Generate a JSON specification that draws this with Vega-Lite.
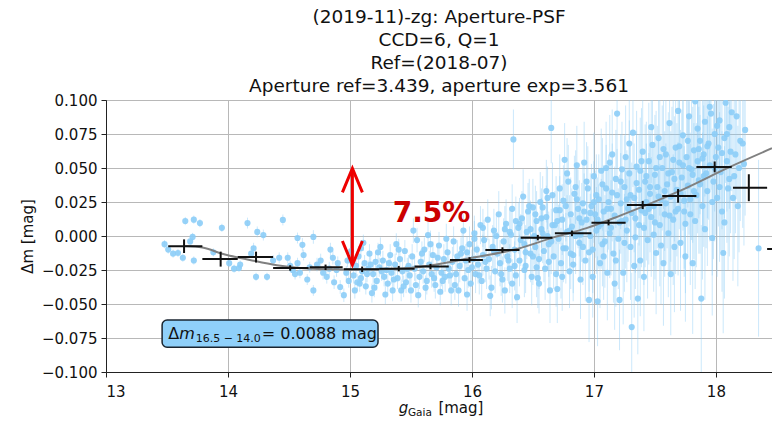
{
  "$schema": "https://vega.github.io/schema/vega-lite/v6.json",
  "autosize": {"type": "none"},
  "padding": {"left": 106, "top": 100, "right": 0, "bottom": 52},
  "width": 666,
  "height": 272,
  "background": "white",
  "config": {
    "font": "DejaVu Sans",
    "view": {"stroke": "#222222", "strokeWidth": 1},
    "axis": {
      "labelFont": "DejaVu Sans", "titleFont": "DejaVu Sans",
      "labelFontSize": 15, "titleFontSize": 15, "titleFontWeight": "normal",
      "labelColor": "#111111", "titleColor": "#111111",
      "domainColor": "#222222", "tickColor": "#222222", "tickSize": 5,
      "gridColor": "#b8b8b8", "gridWidth": 1, "labelPadding": 4
    }
  },
  "title": {
    "text": ["(2019-11)-zg: Aperture-PSF", "CCD=6, Q=1", "Ref=(2018-07)", "Aperture ref=3.439, aperture exp=3.561"],
    "font": "DejaVu Sans", "fontSize": 18.5, "fontWeight": "normal", "lineHeight": 23,
    "color": "#111111", "anchor": "middle", "offset": -2
  },
  "datasets": {
    "pts": [
      {"x":13.48,"y":-0.006,"e":0.003},{"x":13.51,"y":-0.010,"e":0.003},{"x":13.55,"y":-0.013,"e":0.003},{"x":13.59,"y":-0.0125,"e":0.003},
      {"x":13.63,"y":-0.016,"e":0.003},{"x":13.65,"y":0.011,"e":0.003},{"x":13.69,"y":-0.004,"e":0.003},{"x":13.72,"y":0.012,"e":0.003},
      {"x":13.72,"y":-0.018,"e":0.003},{"x":13.71,"y":-0.0007,"e":0.003},{"x":13.77,"y":0.0095,"e":0.003},{"x":13.88,"y":-0.012,"e":0.003},
      {"x":13.95,"y":0.006,"e":0.003},{"x":14.01,"y":-0.020,"e":0.003},{"x":14.05,"y":-0.024,"e":0.003},{"x":14.09,"y":-0.0235,"e":0.003},
      {"x":14.10,"y":-0.021,"e":0.003},{"x":14.16,"y":0.0095,"e":0.004},{"x":14.19,"y":-0.013,"e":0.003},{"x":14.21,"y":-0.009,"e":0.004},
      {"x":14.23,"y":-0.030,"e":0.003},{"x":14.24,"y":0.003,"e":0.004},{"x":14.29,"y":0.0007,"e":0.004},{"x":14.32,"y":-0.030,"e":0.003},
      {"x":14.37,"y":-0.018,"e":0.004},{"x":14.42,"y":-0.016,"e":0.004},{"x":14.45,"y":0.0118,"e":0.004},{"x":14.49,"y":-0.016,"e":0.004},
      {"x":14.51,"y":-0.022,"e":0.004},{"x":14.53,"y":-0.025,"e":0.004},{"x":14.55,"y":-0.028,"e":0.004},{"x":14.57,"y":-0.0015,"e":0.004},
      {"x":14.57,"y":-0.020,"e":0.004},{"x":14.59,"y":-0.027,"e":0.004},{"x":14.61,"y":-0.0065,"e":0.005},{"x":14.62,"y":-0.014,"e":0.004},
      {"x":14.65,"y":-0.032,"e":0.004},{"x":14.67,"y":-0.023,"e":0.004},{"x":14.70,"y":-0.0007,"e":0.005},{"x":14.70,"y":-0.040,"e":0.004},
      {"x":14.73,"y":-0.021,"e":0.005},{"x":14.76,"y":-0.018,"e":0.005},{"x":14.78,"y":-0.027,"e":0.005},{"x":14.81,"y":-0.030,"e":0.005},
      {"x":14.83,"y":-0.024,"e":0.005},{"x":14.84,"y":-0.010,"e":0.005},{"x":14.86,"y":-0.016,"e":0.005},{"x":14.87,"y":-0.034,"e":0.005},
      {"x":14.89,"y":-0.025,"e":0.005},{"x":14.90,"y":-0.020,"e":0.005},{"x":14.92,"y":-0.0375,"e":0.005},{"x":14.95,"y":-0.0435,"e":0.005},
      {"x":14.97,"y":-0.027,"e":0.005},{"x":14.98,"y":-0.018,"e":0.005},{"x":14.99,"y":-0.033,"e":0.005},{"x":15.01,"y":-0.011,"e":0.006},
      {"x":15.03,"y":-0.029,"e":0.006},{"x":15.04,"y":-0.040,"e":0.006},{"x":15.05,"y":-0.022,"e":0.006},{"x":15.07,"y":-0.015,"e":0.006},
      {"x":15.08,"y":-0.035,"e":0.006},{"x":15.10,"y":-0.026,"e":0.006},{"x":15.11,"y":-0.005,"e":0.006},{"x":15.09,"y":-0.031,"e":0.006},
      {"x":15.12,"y":-0.020,"e":0.006},{"x":15.13,"y":-0.037,"e":0.006},{"x":15.15,"y":-0.024,"e":0.006},{"x":15.16,"y":-0.013,"e":0.007},
      {"x":15.18,"y":-0.042,"e":0.007},{"x":15.19,"y":-0.028,"e":0.007},{"x":15.21,"y":-0.019,"e":0.007},{"x":15.22,"y":-0.033,"e":0.007},
      {"x":15.24,"y":-0.023,"e":0.007},{"x":15.25,"y":-0.008,"e":0.007},{"x":15.27,"y":-0.018,"e":0.007},{"x":15.28,"y":-0.030,"e":0.007},
      {"x":15.30,"y":-0.025,"e":0.007},{"x":15.31,"y":-0.035,"e":0.007},{"x":15.33,"y":-0.014,"e":0.008},{"x":15.34,"y":-0.027,"e":0.008},
      {"x":15.35,"y":-0.040,"e":0.008},{"x":15.37,"y":-0.021,"e":0.008},{"x":15.38,"y":-0.006,"e":0.008},{"x":15.39,"y":-0.031,"e":0.008},
      {"x":15.41,"y":-0.017,"e":0.008},{"x":15.42,"y":-0.040,"e":0.008},{"x":15.43,"y":-0.026,"e":0.008},{"x":15.45,"y":-0.011,"e":0.008},
      {"x":15.46,"y":-0.034,"e":0.008},{"x":15.48,"y":-0.022,"e":0.008},{"x":15.49,"y":-0.029,"e":0.009},{"x":15.50,"y":-0.040,"e":0.009},
      {"x":15.51,"y":-0.015,"e":0.009},{"x":15.52,"y":0.004,"e":0.009},{"x":15.53,"y":-0.024,"e":0.009},{"x":15.55,"y":-0.003,"e":0.009},
      {"x":15.56,"y":-0.0435,"e":0.009},{"x":15.57,"y":-0.030,"e":0.009},{"x":15.58,"y":-0.019,"e":0.009},{"x":15.60,"y":-0.026,"e":0.009},
      {"x":15.61,"y":-0.010,"e":0.009},{"x":15.63,"y":-0.033,"e":0.010},{"x":15.64,"y":0.0007,"e":0.010},{"x":15.65,"y":-0.021,"e":0.010},
      {"x":15.67,"y":-0.028,"e":0.010},{"x":15.68,"y":-0.014,"e":0.010},{"x":15.70,"y":-0.036,"e":0.010},{"x":15.71,"y":-0.023,"e":0.010},
      {"x":15.73,"y":-0.007,"e":0.010},{"x":15.74,"y":-0.041,"e":0.010},{"x":15.75,"y":-0.027,"e":0.010},{"x":15.77,"y":-0.017,"e":0.011},
      {"x":15.78,"y":-0.030,"e":0.011},{"x":15.80,"y":-0.012,"e":0.011},{"x":15.81,"y":-0.024,"e":0.011},{"x":15.83,"y":-0.040,"e":0.011},
      {"x":15.84,"y":-0.019,"e":0.011},{"x":15.85,"y":-0.004,"e":0.011},{"x":15.87,"y":-0.028,"e":0.011},{"x":15.88,"y":-0.015,"e":0.012},
      {"x":15.89,"y":-0.040,"e":0.012},{"x":15.90,"y":-0.022,"e":0.012},{"x":15.92,"y":-0.009,"e":0.012},{"x":15.93,"y":0.004,"e":0.012},
      {"x":15.94,"y":-0.031,"e":0.012},{"x":15.95,"y":-0.018,"e":0.012},{"x":15.96,"y":-0.012,"e":0.012},{"x":15.97,"y":-0.025,"e":0.013},
      {"x":15.98,"y":-0.006,"e":0.013},{"x":15.99,"y":-0.035,"e":0.013},{"x":16.01,"y":-0.017,"e":0.013},{"x":16.02,"y":0.002,"e":0.013},
      {"x":16.03,"y":-0.028,"e":0.014},{"x":16.04,"y":-0.010,"e":0.014},{"x":16.05,"y":-0.021,"e":0.014},{"x":16.07,"y":0.008,"e":0.014},
      {"x":16.08,"y":-0.033,"e":0.014},{"x":16.09,"y":-0.014,"e":0.015},{"x":16.10,"y":-0.003,"e":0.015},{"x":16.12,"y":-0.024,"e":0.015},
      {"x":16.13,"y":0.012,"e":0.015},{"x":16.14,"y":-0.017,"e":0.015},{"x":16.16,"y":-0.038,"e":0.016},{"x":16.17,"y":-0.008,"e":0.016},
      {"x":16.18,"y":0.004,"e":0.016},{"x":16.19,"y":-0.026,"e":0.016},{"x":16.21,"y":-0.013,"e":0.016},{"x":16.22,"y":0.016,"e":0.017},
      {"x":16.23,"y":-0.020,"e":0.017},{"x":16.25,"y":-0.032,"e":0.017},{"x":16.26,"y":-0.004,"e":0.017},{"x":16.27,"y":-0.040,"e":0.017},
      {"x":16.28,"y":0.009,"e":0.018},{"x":16.29,"y":-0.015,"e":0.018},{"x":16.31,"y":-0.024,"e":0.018},{"x":16.32,"y":0.001,"e":0.018},
      {"x":16.33,"y":0.020,"e":0.018},{"x":16.34,"y":0.071,"e":0.022},{"x":16.35,"y":-0.010,"e":0.019},{"x":16.36,"y":-0.029,"e":0.019},
      {"x":16.37,"y":-0.045,"e":0.019},{"x":16.38,"y":0.006,"e":0.019},{"x":16.39,"y":-0.018,"e":0.019},{"x":16.41,"y":0.013,"e":0.020},
      {"x":16.42,"y":0.029,"e":0.020},{"x":16.43,"y":-0.006,"e":0.020},{"x":16.44,"y":-0.022,"e":0.020},{"x":16.45,"y":0.003,"e":0.020},
      {"x":16.46,"y":0.018,"e":0.021},{"x":16.48,"y":-0.013,"e":0.021},{"x":16.49,"y":-0.030,"e":0.021},{"x":16.50,"y":0.021,"e":0.021},
      {"x":16.51,"y":0.000,"e":0.021},{"x":16.52,"y":-0.008,"e":0.022},{"x":16.53,"y":0.011,"e":0.022},{"x":16.54,"y":-0.031,"e":0.022},
      {"x":16.55,"y":-0.017,"e":0.022},{"x":16.56,"y":0.025,"e":0.022},{"x":16.57,"y":0.005,"e":0.023},{"x":16.58,"y":0.021,"e":0.023},
      {"x":16.59,"y":-0.011,"e":0.023},{"x":16.60,"y":-0.024,"e":0.023},{"x":16.61,"y":0.014,"e":0.023},{"x":16.62,"y":0.000,"e":0.024},
      {"x":16.63,"y":-0.006,"e":0.024},{"x":16.64,"y":-0.040,"e":0.024},{"x":16.65,"y":0.0795,"e":0.026},{"x":16.66,"y":0.030,"e":0.024},
      {"x":16.67,"y":-0.015,"e":0.024},{"x":16.68,"y":0.008,"e":0.025},{"x":16.69,"y":0.019,"e":0.025},{"x":16.70,"y":-0.039,"e":0.025},
      {"x":16.71,"y":-0.002,"e":0.025},{"x":16.72,"y":0.035,"e":0.025},{"x":16.73,"y":-0.020,"e":0.026},{"x":16.74,"y":0.012,"e":0.026},
      {"x":16.75,"y":0.026,"e":0.026},{"x":16.76,"y":0.056,"e":0.027},{"x":16.77,"y":-0.009,"e":0.026},{"x":16.78,"y":0.003,"e":0.027},
      {"x":16.79,"y":0.040,"e":0.027},{"x":16.80,"y":-0.026,"e":0.027},{"x":16.81,"y":0.016,"e":0.027},{"x":16.82,"y":0.007,"e":0.028},
      {"x":16.83,"y":-0.014,"e":0.028},{"x":16.84,"y":0.031,"e":0.028},{"x":16.85,"y":0.000,"e":0.028},{"x":16.86,"y":0.052,"e":0.029},
      {"x":16.87,"y":0.020,"e":0.029},{"x":16.88,"y":-0.005,"e":0.029},{"x":16.89,"y":-0.032,"e":0.029},{"x":16.90,"y":0.010,"e":0.029},
      {"x":16.91,"y":0.024,"e":0.030},{"x":16.92,"y":0.054,"e":0.030},{"x":16.93,"y":-0.018,"e":0.030},{"x":16.94,"y":0.012,"e":0.030},
      {"x":16.95,"y":0.035,"e":0.031},{"x":16.96,"y":-0.047,"e":0.031},{"x":16.97,"y":0.000,"e":0.031},{"x":16.98,"y":0.022,"e":0.031},
      {"x":16.99,"y":-0.010,"e":0.032},{"x":17.00,"y":0.044,"e":0.032},{"x":17.01,"y":0.016,"e":0.032},{"x":17.02,"y":0.004,"e":0.032},
      {"x":17.03,"y":-0.048,"e":0.033},{"x":17.04,"y":0.027,"e":0.033},{"x":17.05,"y":-0.020,"e":0.033},{"x":17.06,"y":0.009,"e":0.033},
      {"x":17.07,"y":0.038,"e":0.034},{"x":17.08,"y":0.018,"e":0.034},{"x":17.09,"y":-0.004,"e":0.034},{"x":17.10,"y":0.050,"e":0.034},
      {"x":17.11,"y":-0.027,"e":0.035},{"x":17.12,"y":0.025,"e":0.035},{"x":17.13,"y":0.054,"e":0.035},{"x":17.14,"y":0.006,"e":0.035},
      {"x":17.15,"y":0.032,"e":0.036},{"x":17.16,"y":-0.013,"e":0.036},{"x":17.17,"y":0.015,"e":0.036},{"x":17.18,"y":0.042,"e":0.036},
      {"x":17.19,"y":0.090,"e":0.040},{"x":17.20,"y":-0.002,"e":0.037},{"x":17.21,"y":-0.047,"e":0.037},{"x":17.22,"y":0.024,"e":0.037},
      {"x":17.23,"y":0.011,"e":0.037},{"x":17.24,"y":-0.027,"e":0.038},{"x":17.25,"y":0.036,"e":0.038},{"x":17.26,"y":0.058,"e":0.038},
      {"x":17.27,"y":0.004,"e":0.038},{"x":17.28,"y":0.020,"e":0.039},{"x":17.29,"y":0.046,"e":0.039},{"x":17.30,"y":-0.008,"e":0.039},
      {"x":17.31,"y":-0.067,"e":0.040},{"x":17.32,"y":0.076,"e":0.040},{"x":17.33,"y":0.028,"e":0.040},{"x":17.34,"y":0.013,"e":0.040},
      {"x":17.35,"y":0.051,"e":0.041},{"x":17.36,"y":-0.046,"e":0.041},{"x":17.37,"y":0.034,"e":0.041},{"x":17.38,"y":-0.018,"e":0.041},
      {"x":17.39,"y":0.019,"e":0.042},{"x":17.40,"y":0.062,"e":0.042},{"x":17.41,"y":0.006,"e":0.042},{"x":17.42,"y":0.040,"e":0.042},
      {"x":17.43,"y":0.025,"e":0.043},{"x":17.44,"y":-0.003,"e":0.043},{"x":17.45,"y":0.055,"e":0.043},{"x":17.46,"y":0.031,"e":0.043},
      {"x":17.47,"y":0.014,"e":0.044},{"x":17.48,"y":0.067,"e":0.044},{"x":17.49,"y":0.022,"e":0.044},{"x":17.50,"y":0.045,"e":0.044},
      {"x":17.51,"y":-0.0125,"e":0.045},{"x":17.52,"y":0.036,"e":0.045},{"x":17.53,"y":0.072,"e":0.045},{"x":17.54,"y":0.008,"e":0.045},
      {"x":17.55,"y":0.027,"e":0.046},{"x":17.56,"y":0.050,"e":0.046},{"x":17.57,"y":-0.020,"e":0.046},{"x":17.58,"y":0.016,"e":0.046},
      {"x":17.59,"y":0.060,"e":0.047},{"x":17.60,"y":0.038,"e":0.047},{"x":17.61,"y":0.002,"e":0.047},{"x":17.62,"y":0.083,"e":0.047},
      {"x":17.63,"y":0.029,"e":0.048},{"x":17.64,"y":0.047,"e":0.048},{"x":17.65,"y":0.012,"e":0.048},{"x":17.66,"y":-0.008,"e":0.048},
      {"x":17.67,"y":0.065,"e":0.049},{"x":17.68,"y":0.034,"e":0.049},{"x":17.69,"y":0.020,"e":0.049},{"x":17.70,"y":0.054,"e":0.049},
      {"x":17.71,"y":-0.005,"e":0.050},{"x":17.72,"y":0.043,"e":0.050},{"x":17.73,"y":0.074,"e":0.050},{"x":17.74,"y":0.026,"e":0.050},
      {"x":17.75,"y":0.009,"e":0.051},{"x":17.76,"y":0.058,"e":0.051},{"x":17.77,"y":0.037,"e":0.051},{"x":17.78,"y":0.088,"e":0.052},
      {"x":17.79,"y":0.016,"e":0.052},{"x":17.80,"y":0.049,"e":0.052},{"x":17.81,"y":-0.020,"e":0.052},{"x":17.82,"y":0.063,"e":0.053},
      {"x":17.83,"y":0.099,"e":0.053},{"x":17.84,"y":0.030,"e":0.053},{"x":17.85,"y":0.055,"e":0.053},{"x":17.86,"y":0.041,"e":0.054},
      {"x":17.87,"y":0.070,"e":0.054},{"x":17.88,"y":-0.046,"e":0.054},{"x":17.89,"y":0.022,"e":0.054},{"x":17.90,"y":0.060,"e":0.055},
      {"x":17.91,"y":0.084,"e":0.055},{"x":17.92,"y":0.046,"e":0.055},{"x":17.93,"y":0.033,"e":0.055},{"x":17.94,"y":0.068,"e":0.056},
      {"x":17.95,"y":0.052,"e":0.056},{"x":17.96,"y":0.090,"e":0.056},{"x":17.97,"y":-0.0015,"e":0.057},{"x":17.98,"y":0.040,"e":0.057},
      {"x":17.99,"y":0.075,"e":0.057},{"x":18.00,"y":0.058,"e":0.057},{"x":18.01,"y":0.028,"e":0.058},{"x":18.02,"y":0.065,"e":0.058},
      {"x":18.03,"y":0.085,"e":0.058},{"x":18.04,"y":0.047,"e":0.058},{"x":18.05,"y":0.018,"e":0.059},{"x":18.06,"y":-0.0125,"e":0.059},
      {"x":18.07,"y":0.072,"e":0.059},{"x":18.08,"y":0.098,"e":0.059},{"x":18.09,"y":0.055,"e":0.060},{"x":18.10,"y":0.035,"e":0.060},
      {"x":18.11,"y":0.080,"e":0.060},{"x":18.12,"y":0.062,"e":0.060},{"x":18.14,"y":0.028,"e":0.061},{"x":18.15,"y":0.044,"e":0.061},
      {"x":18.17,"y":0.088,"e":0.061},{"x":18.19,"y":0.050,"e":0.062},{"x":18.22,"y":0.068,"e":0.062},{"x":18.24,"y":0.078,"e":0.063},
      {"x":18.35,"y":-0.009,"e":0.065},
      {"x":15.02,"y":-0.019,"e":0.006},{"x":15.06,"y":-0.034,"e":0.006},{"x":15.09,"y":-0.009,"e":0.006},{"x":15.14,"y":-0.028,"e":0.006},
      {"x":15.17,"y":-0.021,"e":0.007},{"x":15.20,"y":-0.038,"e":0.007},{"x":15.23,"y":-0.012,"e":0.007},{"x":15.26,"y":-0.026,"e":0.007},
      {"x":15.29,"y":-0.043,"e":0.007},{"x":15.32,"y":-0.020,"e":0.007},{"x":15.36,"y":-0.032,"e":0.008},{"x":15.40,"y":-0.010,"e":0.008},
      {"x":15.44,"y":-0.037,"e":0.008},{"x":15.47,"y":-0.024,"e":0.008},{"x":15.54,"y":-0.036,"e":0.009},{"x":15.59,"y":-0.013,"e":0.009},
      {"x":15.62,"y":-0.038,"e":0.009},{"x":15.66,"y":-0.006,"e":0.010},{"x":15.69,"y":-0.031,"e":0.010},{"x":15.72,"y":-0.016,"e":0.010},
      {"x":15.76,"y":-0.033,"e":0.010},{"x":15.79,"y":-0.002,"e":0.011},{"x":15.82,"y":-0.029,"e":0.011},{"x":15.86,"y":-0.036,"e":0.011},
      {"x":15.91,"y":-0.013,"e":0.012},{"x":15.96,"y":-0.043,"e":0.012},{"x":16.00,"y":-0.023,"e":0.013},{"x":16.02,"y":-0.002,"e":0.013},
      {"x":16.06,"y":-0.029,"e":0.014},{"x":16.09,"y":0.006,"e":0.014},{"x":16.11,"y":-0.019,"e":0.015},{"x":16.15,"y":-0.044,"e":0.015},
      {"x":16.18,"y":-0.011,"e":0.016},{"x":16.20,"y":0.000,"e":0.016},{"x":16.24,"y":-0.028,"e":0.016},{"x":16.27,"y":0.005,"e":0.017},
      {"x":16.30,"y":-0.018,"e":0.017},{"x":16.33,"y":-0.035,"e":0.018},{"x":16.36,"y":0.011,"e":0.018},{"x":16.40,"y":-0.003,"e":0.019},
      {"x":16.43,"y":-0.025,"e":0.020},{"x":16.47,"y":0.022,"e":0.020},{"x":16.50,"y":-0.015,"e":0.021},{"x":16.52,"y":0.016,"e":0.021},
      {"x":16.55,"y":-0.035,"e":0.022},{"x":16.58,"y":0.002,"e":0.022},{"x":16.61,"y":0.033,"e":0.023},{"x":16.63,"y":-0.019,"e":0.023},
      {"x":16.66,"y":0.008,"e":0.024},{"x":16.69,"y":-0.028,"e":0.024},{"x":16.72,"y":0.019,"e":0.025},{"x":16.75,"y":-0.009,"e":0.025},
      {"x":16.78,"y":0.046,"e":0.026},{"x":16.80,"y":0.004,"e":0.026},{"x":16.83,"y":-0.021,"e":0.027},{"x":16.86,"y":0.027,"e":0.027},
      {"x":16.88,"y":0.013,"e":0.028},{"x":16.91,"y":-0.008,"e":0.028},{"x":16.94,"y":0.040,"e":0.029},{"x":16.97,"y":0.017,"e":0.029},
      {"x":16.99,"y":-0.030,"e":0.030},{"x":17.02,"y":0.030,"e":0.030},{"x":17.04,"y":0.007,"e":0.031},{"x":17.06,"y":0.048,"e":0.031},
      {"x":17.08,"y":-0.015,"e":0.032},{"x":17.11,"y":0.020,"e":0.032},{"x":17.13,"y":0.002,"e":0.033},{"x":17.15,"y":0.060,"e":0.033},
      {"x":17.17,"y":-0.035,"e":0.034},{"x":17.19,"y":0.030,"e":0.034},{"x":17.21,"y":0.010,"e":0.035},{"x":17.23,"y":0.049,"e":0.035},
      {"x":17.25,"y":-0.005,"e":0.036},{"x":17.27,"y":0.027,"e":0.036},{"x":17.29,"y":0.068,"e":0.037},{"x":17.31,"y":0.017,"e":0.037},
      {"x":17.33,"y":-0.022,"e":0.038},{"x":17.35,"y":0.039,"e":0.038},{"x":17.37,"y":0.008,"e":0.039},{"x":17.39,"y":0.055,"e":0.039},
      {"x":17.41,"y":-0.030,"e":0.040},{"x":17.43,"y":0.044,"e":0.040},{"x":17.45,"y":0.020,"e":0.041},{"x":17.47,"y":0.080,"e":0.041},
      {"x":17.49,"y":0.001,"e":0.042},{"x":17.51,"y":0.050,"e":0.042},{"x":17.53,"y":0.029,"e":0.043},{"x":17.55,"y":-0.007,"e":0.043},
      {"x":17.57,"y":0.064,"e":0.044},{"x":17.59,"y":0.024,"e":0.044},{"x":17.61,"y":0.046,"e":0.045},{"x":17.63,"y":-0.028,"e":0.045},
      {"x":17.65,"y":0.056,"e":0.046},{"x":17.67,"y":0.018,"e":0.046},{"x":17.69,"y":0.092,"e":0.047},{"x":17.71,"y":0.031,"e":0.047},
      {"x":17.73,"y":0.052,"e":0.048},{"x":17.75,"y":-0.015,"e":0.048},{"x":17.77,"y":0.070,"e":0.049},{"x":17.79,"y":0.027,"e":0.049},
      {"x":17.81,"y":0.045,"e":0.050},{"x":17.83,"y":0.011,"e":0.050},{"x":17.85,"y":0.079,"e":0.051},{"x":17.87,"y":0.038,"e":0.051},
      {"x":17.89,"y":0.057,"e":0.052},{"x":17.91,"y":0.005,"e":0.052},{"x":17.93,"y":0.066,"e":0.053},{"x":17.95,"y":0.095,"e":0.053},
      {"x":17.97,"y":0.025,"e":0.054},{"x":17.99,"y":0.050,"e":0.054},{"x":18.01,"y":0.081,"e":0.055},{"x":18.03,"y":0.036,"e":0.055},
      {"x":18.05,"y":0.061,"e":0.056},{"x":18.07,"y":0.010,"e":0.056},{"x":18.09,"y":0.075,"e":0.057},{"x":18.11,"y":0.042,"e":0.057},
      {"x":18.13,"y":0.091,"e":0.058},{"x":18.16,"y":0.060,"e":0.058},{"x":18.18,"y":0.022,"e":0.059},{"x":18.20,"y":0.070,"e":0.059},
      {"x":18.23,"y":0.053,"e":0.060},
      {"x":16.31,"y":0.003,"e":0.018},{"x":16.35,"y":-0.022,"e":0.018},{"x":16.39,"y":0.009,"e":0.019},{"x":16.44,"y":-0.012,"e":0.020},
      {"x":16.48,"y":0.005,"e":0.021},{"x":16.53,"y":-0.023,"e":0.022},{"x":16.57,"y":0.013,"e":0.022},{"x":16.62,"y":0.028,"e":0.023},
      {"x":16.65,"y":-0.004,"e":0.024},{"x":16.70,"y":0.011,"e":0.025},{"x":16.74,"y":-0.030,"e":0.025},{"x":16.77,"y":0.022,"e":0.026},
      {"x":16.81,"y":-0.013,"e":0.026},{"x":16.85,"y":0.036,"e":0.027},{"x":16.89,"y":0.001,"e":0.028},{"x":16.92,"y":0.018,"e":0.028},
      {"x":16.96,"y":-0.012,"e":0.029},{"x":17.00,"y":0.025,"e":0.030},{"x":17.03,"y":0.012,"e":0.031},{"x":17.07,"y":-0.006,"e":0.031},
      {"x":17.10,"y":0.035,"e":0.032},{"x":17.14,"y":0.020,"e":0.033},{"x":17.18,"y":-0.018,"e":0.034},{"x":17.22,"y":0.040,"e":0.035},
      {"x":17.26,"y":0.012,"e":0.036},{"x":17.30,"y":0.030,"e":0.037},{"x":17.34,"y":-0.001,"e":0.038},{"x":17.38,"y":0.048,"e":0.039},
      {"x":17.42,"y":0.017,"e":0.040},{"x":17.46,"y":0.036,"e":0.041},{"x":17.50,"y":0.010,"e":0.042},{"x":17.54,"y":0.058,"e":0.043},
      {"x":17.58,"y":0.033,"e":0.044},{"x":17.62,"y":0.015,"e":0.045},{"x":17.66,"y":0.042,"e":0.046},{"x":17.70,"y":0.066,"e":0.047},
      {"x":17.74,"y":0.018,"e":0.048},{"x":17.78,"y":0.050,"e":0.049},{"x":17.82,"y":0.033,"e":0.050},{"x":17.86,"y":0.064,"e":0.051},
      {"x":17.90,"y":0.044,"e":0.052}
    ],
    "bins": [
      {"x":13.64,"x1":13.51,"x2":13.79,"y":-0.0075,"e":0.005},
      {"x":13.94,"x1":13.79,"x2":14.08,"y":-0.017,"e":0.0055},
      {"x":14.23,"x1":14.08,"x2":14.37,"y":-0.0155,"e":0.004},
      {"x":14.51,"x1":14.37,"x2":14.66,"y":-0.0235,"e":0.002},
      {"x":14.80,"x1":14.67,"x2":14.94,"y":-0.023,"e":0.002},
      {"x":15.10,"x1":14.95,"x2":15.24,"y":-0.0245,"e":0.002},
      {"x":15.40,"x1":15.24,"x2":15.53,"y":-0.024,"e":0.002},
      {"x":15.66,"x1":15.53,"x2":15.81,"y":-0.0225,"e":0.002},
      {"x":15.98,"x1":15.82,"x2":16.09,"y":-0.0176,"e":0.002},
      {"x":16.25,"x1":16.11,"x2":16.39,"y":-0.0103,"e":0.002},
      {"x":16.54,"x1":16.40,"x2":16.66,"y":-0.0012,"e":0.002},
      {"x":16.82,"x1":16.68,"x2":16.98,"y":0.002,"e":0.002},
      {"x":17.12,"x1":16.98,"x2":17.26,"y":0.0098,"e":0.002},
      {"x":17.40,"x1":17.27,"x2":17.56,"y":0.0228,"e":0.003},
      {"x":17.69,"x1":17.56,"x2":17.84,"y":0.0295,"e":0.005},
      {"x":17.99,"x1":17.84,"x2":18.13,"y":0.0508,"e":0.004},
      {"x":18.27,"x1":18.14,"x2":18.42,"y":0.0355,"e":0.0099},
      {"x":18.56,"x1":18.42,"x2":18.71,"y":-0.0096,"e":0.003}
    ],
    "curve": [
      {"x":13.65,"y":-0.0074},{"x":13.79,"y":-0.0085},{"x":13.96,"y":-0.0132},{"x":14.18,"y":-0.0176},
      {"x":14.40,"y":-0.0215},{"x":14.62,"y":-0.0237},{"x":14.94,"y":-0.0247},{"x":15.24,"y":-0.0245},
      {"x":15.57,"y":-0.0228},{"x":15.98,"y":-0.0164},{"x":16.37,"y":-0.0095},{"x":16.67,"y":-0.001},
      {"x":16.94,"y":0.0058},{"x":17.21,"y":0.0148},{"x":17.69,"y":0.0326},{"x":18.12,"y":0.051},{"x":18.46,"y":0.0645}
    ]
  },
  "encoding": {
    "x": {"field": "x", "type": "quantitative",
      "scale": {"domain": [13, 18.46], "nice": false, "zero": false},
      "axis": {"values": [13, 14, 15, 16, 17, 18], "title": null, "format": "d", "grid": true, "labelPadding": 7}},
    "y": {"field": "y", "type": "quantitative",
      "scale": {"domain": [-0.1, 0.1], "nice": false, "zero": false},
      "axis": {"values": [-0.1, -0.075, -0.05, -0.025, 0, 0.025, 0.05, 0.075, 0.1],
        "labelExpr": "replace(format(datum.value, '.3f'), '-', '\u2212')",
        "title": "Δm [mag]", "titlePadding": 6, "grid": true}}
  },
  "layer": [
    {"data": {"name": "pts"},
     "mark": {"type": "errorbar", "color": "#8ccdf7", "opacity": 0.45, "thickness": 1, "clip": true},
     "encoding": {"yError": {"field": "e"}}},
    {"data": {"name": "pts"},
     "mark": {"type": "point", "filled": true, "size": 38, "color": "#8ccdf7", "opacity": 0.9, "clip": true}},
    {"data": {"name": "curve"},
     "mark": {"type": "line", "color": "#808080", "strokeWidth": 2, "interpolate": "monotone", "clip": true},
     "encoding": {}},
    {"data": {"name": "bins"},
     "mark": {"type": "rule", "color": "#111111", "strokeWidth": 2, "clip": true},
     "encoding": {"x": {"field": "x1", "type": "quantitative"}, "x2": {"field": "x2"}}},
    {"data": {"name": "bins"},
     "mark": {"type": "errorbar", "color": "#111111", "thickness": 2, "clip": true},
     "encoding": {"yError": {"field": "e"}}},
    {"data": {"values": [{"x": 15.02, "y": -0.0213, "y2": 0.0497}]},
     "mark": {"type": "rule", "color": "#ee0000", "strokeWidth": 3},
     "encoding": {"y2": {"field": "y2"}}},
    {"data": {"values": [{"x": 15.02, "y": 0.0497}]},
     "mark": {"type": "point", "shape": "M-1,2.4L0,0L1,2.4", "size": 400, "filled": false, "stroke": "#ee0000", "strokeWidth": 3, "opacity": 1}},
    {"data": {"values": [{"x": 15.02, "y": -0.0213}]},
     "mark": {"type": "point", "shape": "M-1,-2.4L0,0L1,-2.4", "size": 400, "filled": false, "stroke": "#ee0000", "strokeWidth": 3, "opacity": 1}},
    {"data": {"values": [{"x": 15.35, "y": 0.0162, "t": "7.5%"}]},
     "mark": {"type": "text", "align": "left", "baseline": "middle", "fontSize": 28, "fontWeight": "bold", "color": "#cc0000", "font": "DejaVu Sans"},
     "encoding": {"text": {"field": "t"}}},
    {"data": {"values": [{"x": 13.46, "x2": 15.23, "y": -0.0818, "y2": -0.0618}]},
     "mark": {"type": "rect", "fill": "#8fd0fa", "stroke": "#1a2530", "strokeWidth": 1.5, "cornerRadius": 5},
     "encoding": {"x2": {"field": "x2"}, "y2": {"field": "y2"}}},
    {"data": {"values": [{"x": 13.51, "y": -0.0755, "t": "Δ"}]},
     "mark": {"type": "text", "align": "left", "baseline": "alphabetic", "fontSize": 16, "color": "#111111"},
     "encoding": {"text": {"field": "t"}}},
    {"data": {"values": [{"x": 13.60, "y": -0.0755, "t": "m"}]},
     "mark": {"type": "text", "align": "left", "baseline": "alphabetic", "fontSize": 16, "fontStyle": "italic", "color": "#111111"},
     "encoding": {"text": {"field": "t"}}},
    {"data": {"values": [{"x": 13.735, "y": -0.0778, "t": "16.5 − 14.0"}]},
     "mark": {"type": "text", "align": "left", "baseline": "alphabetic", "fontSize": 11, "color": "#111111"},
     "encoding": {"text": {"field": "t"}}},
    {"data": {"values": [{"x": 14.277, "y": -0.0755, "t": "= 0.0088 mag"}]},
     "mark": {"type": "text", "align": "left", "baseline": "alphabetic", "fontSize": 16, "color": "#111111"},
     "encoding": {"text": {"field": "t"}}},
    {"data": {"values": [{"x": 15.40, "y": -0.1305, "t": "g"}]},
     "mark": {"type": "text", "align": "left", "baseline": "alphabetic", "fontSize": 15, "fontStyle": "italic", "color": "#111111"},
     "encoding": {"text": {"field": "t"}}},
    {"data": {"values": [{"x": 15.475, "y": -0.1323, "t": "Gaia"}]},
     "mark": {"type": "text", "align": "left", "baseline": "alphabetic", "fontSize": 10.5, "color": "#111111"},
     "encoding": {"text": {"field": "t"}}},
    {"data": {"values": [{"x": 15.725, "y": -0.1305, "t": "[mag]"}]},
     "mark": {"type": "text", "align": "left", "baseline": "alphabetic", "fontSize": 15, "color": "#111111"},
     "encoding": {"text": {"field": "t"}}}
  ]
}
